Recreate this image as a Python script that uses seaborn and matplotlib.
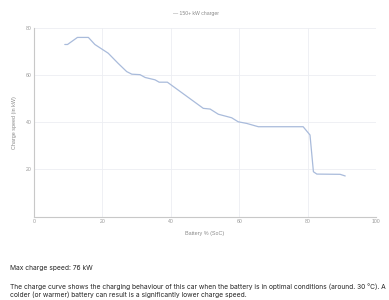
import matplotlib
matplotlib.use("Agg")
import matplotlib.pyplot as plt
import seaborn as sns
import pandas as pd

# Data
soc = [9, 9.8, 12.7, 15.9, 17.8, 21.7, 24.6, 27.1, 28.6, 31, 32.5, 35.4, 36.6, 39,
       49.5, 51.5, 53.9, 57.8, 59.7, 62.2, 65.6, 78.7, 80.7, 81.7, 82.7, 89.5, 91]
power = [73, 73, 76, 76, 73, 69.3, 65, 61.5, 60.4, 60.2, 59, 58, 57, 57,
         45.9, 45.6, 43.4, 41.9, 40.2, 39.5, 38.1, 38.1, 34.6, 19, 18, 17.9, 17.2]
series_name = "150+ kW charger"
x_ticks = [0, 20, 40, 60, 80, 100]
y_ticks = [20, 40, 60, 80]
x_label = "Battery % (SoC)"
y_label = "Charge speed (in kW)"
max_text = "Max charge speed: 76 kW"
desc_lines = [
    "The charge curve shows the charging behaviour of this car when the battery is in optimal conditions (around. 30 \u00b0C). A",
    "colder (or warmer) battery can result is a significantly lower charge speed.",
]

df = pd.DataFrame({"soc": soc, "power": power, "series": series_name})

sns.set_style("white")
plt.rcParams["font.family"] = ["Liberation Sans", "DejaVu Sans"]

fig = plt.figure(figsize=(3.89, 3.0), dpi=100)
ax = fig.add_axes([34 / 389, 1 - 216.5 / 300, (376 - 34) / 389, (216.5 - 28) / 300])

line_color = "#a9bbdb"
sns.lineplot(data=df, x="soc", y="power", hue="series", palette=[line_color],
             linewidth=0.9, ax=ax, legend=False)

ax.set_xlim(0, 100)
ax.set_ylim(0, 80)
ax.set_xticks(x_ticks)
ax.set_yticks(y_ticks)
ax.set_xticklabels([str(t) for t in x_ticks])
ax.set_yticklabels([str(t) for t in y_ticks])
ax.grid(True, color="#eceef2", linewidth=0.6)
ax.set_axisbelow(True)
for s in ["top", "right"]:
    ax.spines[s].set_visible(False)
for s in ["left", "bottom"]:
    ax.spines[s].set_color("#c8c8c8")
    ax.spines[s].set_linewidth(0.8)
ax.tick_params(axis="both", labelsize=3.7, colors="#9a9a9a", length=0, pad=2)
ax.set_xlabel(x_label, fontsize=3.9, color="#8a8a8a", labelpad=5)
ax.set_ylabel(y_label, fontsize=3.9, color="#8a8a8a", labelpad=6)

# legend at top center
fig.text(196 / 389, 1 - 13 / 300, "\u2014 " + series_name, ha="center", va="center",
         fontsize=3.7, color="#8a8a8a")

tf = ["Inter", "DejaVu Sans"]
fig.text(10 / 389, 1 - 268 / 300, max_text, ha="left", va="center",
         fontsize=4.8, color="#262626", family=tf)
fig.text(10 / 389, 1 - 287 / 300, desc_lines[0], ha="left", va="center",
         fontsize=4.8, color="#262626", family=tf)
fig.text(10 / 389, 1 - 295 / 300, desc_lines[1], ha="left", va="center",
         fontsize=4.8, color="#262626", family=tf)

fig.savefig("out.png", dpi=100)
